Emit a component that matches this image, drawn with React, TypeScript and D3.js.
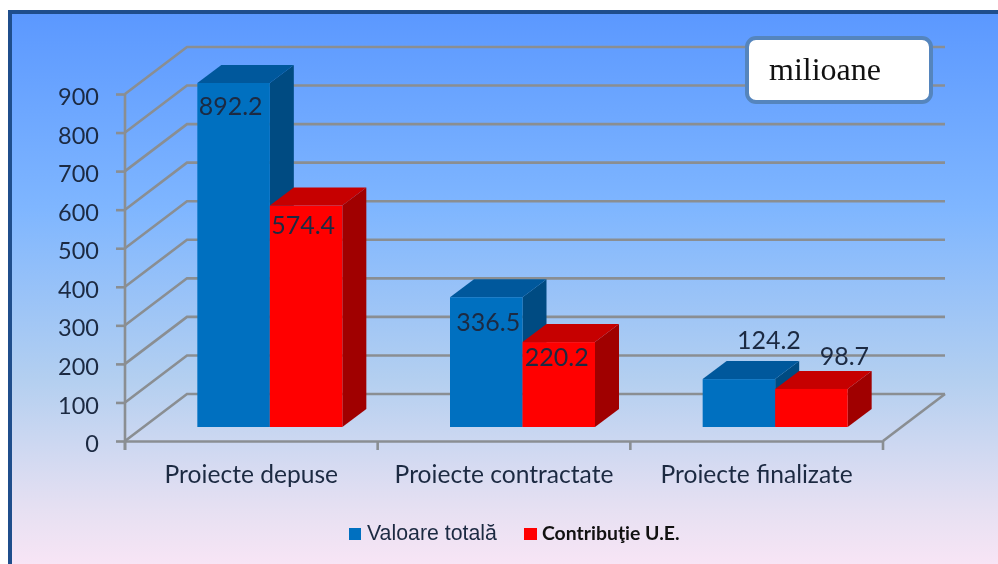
import React, { useEffect, useRef } from 'react';
import * as d3 from 'd3';

const categories = ['Proiecte depuse', 'Proiecte contractate', 'Proiecte finalizate'];
const seriesNames = ['Valoare totală', 'Contribuţie U.E.'];
const valoareTotala = [892.2, 336.5, 124.2];
const contributieUE = [574.4, 220.2, 98.7];
const yTicks = [0, 100, 200, 300, 400, 500, 600, 700, 800, 900];

// label nudges from the top-centre of each bar's front face
const labelNudge = [
  [[-3, 32], [-3, 28]],
  [[2, 34], [-2, 24]],
  [[30, -30], [33, -24]],
];

const blueShades = { front: '#0070c0', top: '#00589c', side: '#004b82' };
const redShades = { front: '#ff0000', top: '#c60000', side: '#a00000' };
const gridColor = '#8a8e92';
const textColor = '#1c2a42';

const App = () => {
  const svgRef = useRef<SVGSVGElement>(null);

  useEffect(() => {
    const svg = d3.select(svgRef.current);
    svg.selectAll('*').remove();

    const W = 998;
    const H = 564;
    const x0 = 125;
    const x1 = 883;
    const floorY = 441;
    const topY = 94;
    const depthX = 62;
    const depthY = 47;

    const x = d3.scaleBand().domain(categories).range([x0, x1]);
    const inner = d3.scaleBand().domain(seriesNames).range([x.bandwidth() / 2 - 72.5, x.bandwidth() / 2 + 72.5]);
    const y = d3.scaleLinear().domain([0, 900]).range([floorY, topY]);

    const defs = svg.append('defs');
    const grad = defs.append('linearGradient').attr('id', 'bg').attr('x1', 0).attr('x2', 0).attr('y1', 0).attr('y2', 1);
    [[0, '#5b98ff'], [0.35, '#7fb6ff'], [0.65, '#b3cff0'], [0.88, '#e6e0f2'], [1, '#fbe6f6']].forEach(([o, c]) => {
      grad.append('stop').attr('offset', o as number).attr('stop-color', c as string);
    });

    // frame
    svg.append('rect').attr('x', 10).attr('y', 12).attr('width', W).attr('height', H)
      .attr('fill', 'url(#bg)').attr('stroke', '#1f4e8c').attr('stroke-width', 4);

    // walls and floor
    const grid = svg.append('g').attr('fill', 'none').attr('stroke', gridColor).attr('stroke-width', 2.6);
    yTicks.forEach((t) => {
      grid.append('path')
        .attr('d', `M${x0},${y(t)}L${x0 + depthX},${y(t) - depthY}L${x1 + depthX},${y(t) - depthY}`);
    });
    grid.append('path').attr('d', `M${x1},${floorY}L${x1 + depthX},${floorY - depthY}`);

    // front axes
    const axisY = svg.append('g').attr('transform', `translate(${x0},0)`)
      .call(d3.axisLeft(y).tickValues(yTicks).tickSize(9).tickPadding(17));
    axisY.selectAll('text').attr('dy', '0.45em');

    const axisX = svg.append('g').attr('transform', `translate(0,${floorY})`)
      .call(d3.axisBottom(x).tickSize(0).tickPadding(25));
    axisX.selectAll('text').attr('font-size', 24.6);
    [x0, ...categories.map((c) => (x(c) as number) + x.bandwidth())].forEach((v) => {
      axisX.append('line').attr('x1', v).attr('x2', v).attr('y1', 0).attr('y2', 9);
    });

    [axisY, axisX].forEach((a) => {
      a.attr('font-family', 'Lato').attr('font-size', 23.5);
      a.selectAll('.domain, line').attr('stroke', gridColor).attr('stroke-width', 2.6);
      a.selectAll('text').attr('fill', textColor);
    });
    axisY.select('.domain').attr('d', `M0,${topY}V${floorY + 9}`);

    // bars: pushed into the floor by a fixed share of the depth
    const inX = 18.5;
    const inY = 14;
    const barX = 24;
    const barY = 18;
    const base = y(0) - inY;
    const zero = y(0);
    const marks = svg.append('g');
    const labels = svg.append('g').attr('font-family', 'Lato').attr('font-size', 25)
      .attr('fill', textColor).attr('text-anchor', 'middle');

    categories.forEach((c, i) => {
      [valoareTotala, contributieUE].forEach((vals, s) => {
        const shades = s === 0 ? blueShades : redShades;
        const l = (x(c) as number) + (inner(seriesNames[s]) as number) + inX;
        const r = l + inner.bandwidth();
        const h = zero - y(vals[i]);
        const t = base - h;
        marks.append('path').attr('fill', shades.side)
          .attr('d', `M${r},${t}L${r + barX},${t - barY}V${base - barY}L${r},${base}Z`);
        marks.append('path').attr('fill', shades.top)
          .attr('d', `M${l},${t}L${l + barX},${t - barY}H${r + barX}L${r},${t}Z`);
        marks.append('rect').attr('fill', shades.front)
          .attr('x', l).attr('y', t).attr('width', r - l).attr('height', h);
        labels.append('text')
          .attr('x', (l + r) / 2 + labelNudge[i][s][0])
          .attr('y', t + labelNudge[i][s][1])
          .text(vals[i].toFixed(1));
      });
    });

    // units box
    svg.append('rect').attr('x', 747).attr('y', 38).attr('width', 184).attr('height', 64).attr('rx', 9)
      .attr('fill', '#fff').attr('stroke', '#5585bd').attr('stroke-width', 4);
    svg.append('text').attr('x', 769).attr('y', 80).attr('font-family', 'Liberation Serif')
      .attr('font-size', 32).attr('fill', '#111').text('milioane');

    // legend
    svg.append('rect').attr('x', 349).attr('y', 528).attr('width', 12).attr('height', 12).attr('fill', blueShades.front);
    svg.append('text').attr('x', 367).attr('y', 540).attr('font-family', 'Liberation Sans')
      .attr('font-size', 21.3).attr('fill', textColor).text(seriesNames[0]);
    svg.append('rect').attr('x', 524).attr('y', 528).attr('width', 13).attr('height', 12).attr('fill', redShades.front);
    svg.append('text').attr('x', 542).attr('y', 540).attr('font-family', 'Lato').attr('font-weight', 700)
      .attr('font-size', 19.4).attr('fill', '#111').text(seriesNames[1]);
  }, []);

  return <svg ref={svgRef} width={998} height={564} style={{ position: 'absolute', left: 0, top: 0, filter: 'blur(0.4px)' }} />;
};

export default App;
